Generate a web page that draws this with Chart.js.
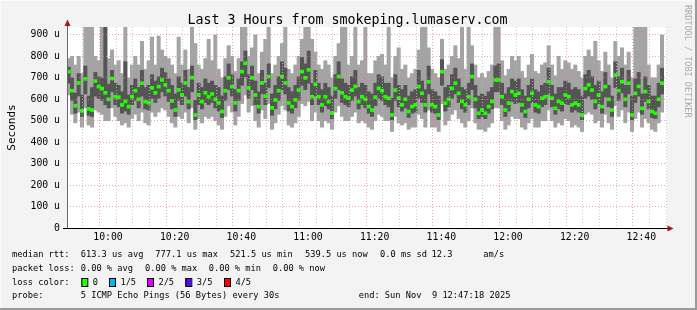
<!DOCTYPE html>
<html>
<head>
<meta charset="utf-8">
<script src="https://cdn.jsdelivr.net/npm/chart.js@4"></script>
<style>
  html, body { margin: 0; padding: 0; background: #f3f3f3; }
  canvas { display: block; }
</style>
</head>
<body>
<canvas id="smoke" width="697" height="310"></canvas>
<script>
// time axis: minutes since midnight, one sample per minute
const startMinute = 587.7;   // 09:47:42
const spanMinutes = 180;
const yTicks = [0, 100, 200, 300, 400, 500, 600, 700, 800, 900];

// values in microseconds
const median = [
  729,640,570,676,546,695,555,550,685,659,650,630,600,697,612,610,574,590,566,612,
  640,600,675,589,584,653,630,659,690,667,640,592,550,644,620,676,589,701,527,620,
  589,630,612,625,600,583,543,640,700,659,583,640,729,768,653,700,620,566,676,615,
  706,560,597,640,706,676,583,566,597,643,729,700,737,612,670,612,574,612,589,536,
  650,706,630,612,605,643,660,589,612,600,566,550,610,651,640,612,605,527,643,605,
  574,600,543,566,574,659,628,574,682,574,566,527,729,582,600,651,675,628,590,574,
  612,706,600,535,550,535,566,590,690,690,612,550,582,636,620,628,574,543,600,628,
  574,566,605,612,682,605,558,590,582,620,612,574,582,574,527,650,667,643,590,620,
  566,659,600,550,713,640,682,600,675,527,628,660,558,636,590,543,535,600,675,null
];
const ping2 = [
  675,595,535,615,520,625,525,520,615,605,595,575,560,635,575,565,535,545,530,575,
  595,560,615,555,550,605,585,605,635,615,590,555,520,595,575,615,555,635,505,575,
  555,585,575,585,560,545,515,595,645,615,545,595,665,705,605,645,575,535,625,575,
  655,525,555,595,645,625,545,535,560,595,665,645,675,575,615,575,540,570,555,510,
  605,645,585,575,565,595,615,555,575,560,535,520,570,605,595,575,565,505,595,565,
  545,560,515,535,540,605,585,540,625,540,535,505,665,545,565,605,625,585,555,540,
  575,645,560,510,520,510,535,555,635,635,575,520,545,590,580,585,540,515,560,585,
  540,535,565,575,625,565,530,555,545,580,575,540,550,540,505,605,615,600,555,580,
  535,610,565,520,655,595,630,565,625,505,585,615,530,590,555,515,510,565,625,null
];
const ping4 = [
  750,700,630,720,620,755,615,655,725,705,700,940,670,735,675,665,635,775,620,665,
  695,655,735,655,665,715,685,705,745,725,695,665,625,705,675,735,655,755,595,675,
  655,695,675,685,665,655,615,705,765,715,645,695,775,825,715,755,685,635,735,675,
  765,625,665,705,775,745,655,635,665,705,795,765,825,675,735,675,645,675,655,615,
  715,775,695,675,665,705,735,655,675,665,635,625,675,715,705,675,675,605,715,665,
  645,665,615,635,645,735,685,645,755,645,635,615,785,655,665,715,745,695,655,645,
  675,765,665,615,625,615,635,655,755,765,675,625,655,695,685,695,645,615,665,695,
  645,635,665,675,745,665,625,655,655,685,675,645,655,645,615,715,735,705,665,685,
  635,725,665,615,775,705,745,665,735,615,695,725,625,705,665,615,615,675,745,null
];
const pingMin = [
  620,530,490,540,470,560,480,470,550,540,530,500,500,560,520,500,480,490,470,510,
  530,500,540,490,480,540,520,540,560,550,520,490,470,520,510,540,490,560,460,510,
  490,520,510,520,500,480,460,520,570,540,480,520,580,620,540,570,500,470,550,510,
  580,460,490,530,570,550,480,470,490,520,580,570,590,500,540,500,470,500,490,460,
  540,570,520,500,500,520,540,490,500,490,470,460,500,530,520,500,500,450,520,490,
  480,490,460,470,470,530,510,470,550,470,470,450,580,480,500,530,550,510,490,470,
  500,560,490,460,460,450,470,490,560,560,500,460,480,520,510,510,470,460,490,510,
  470,470,500,500,550,500,470,490,480,510,500,470,480,470,450,530,540,530,490,500,
  470,530,490,460,570,520,550,490,540,450,510,540,470,510,490,460,450,490,540,null
];
const pingMax = [
  790,800,760,800,720,940,940,940,800,780,940,940,790,830,760,780,720,940,700,760,
  800,760,870,740,780,890,760,895,830,800,790,760,720,890,760,830,740,940,860,760,
  740,790,880,780,900,740,700,790,850,800,730,790,940,940,800,840,900,720,820,880,
  940,720,760,800,860,940,740,720,760,800,880,940,940,880,820,760,740,780,760,700,
  800,860,940,940,760,800,940,760,780,940,720,720,780,800,810,760,940,700,800,840,
  740,760,700,720,740,830,940,940,840,740,720,700,880,740,760,800,850,790,940,740,
  940,850,760,700,720,700,730,760,940,940,780,710,740,800,780,800,730,700,760,810,
  730,720,760,770,850,760,710,800,740,780,770,740,760,730,700,800,830,800,870,780,
  730,820,760,700,870,800,840,760,820,700,940,940,940,940,760,700,700,760,900,null
];

const lossColors = ['#20ff00', '#00b8ff', '#e000ff', '#6000ff', '#ff0000'];
const lossLabels = ['0', '1/5', '2/5', '3/5', '4/5'];

const mono = 'DejaVu Sans Mono';

function sampleTime(i) { return startMinute + i + 0.5; }
function hhmm(v) {
    const h = Math.floor(v / 60), m = Math.round(v % 60);
    return h + ':' + String(m).padStart(2, '0');
}
function band(lowArr, highArr) {
    const out = [];
    lowArr.forEach((lo, i) => {
        if (lo == null || highArr[i] == null) return;
        out.push({ x: sampleTime(i), y: [lo, highArr[i]] });
    });
    return out;
}
function medianMarks() {
    const out = [];
    median.forEach((m, i) => {
        if (m == null) return;
        out.push({ x: sampleTime(i), y: [m - 7, m + 7] });
    });
    return out;
}
function isMultiple(ctx, step) {
    return !!ctx.tick && Math.round(ctx.tick.value) % step === 0;
}

const legendLines = [
    { y: 257.3, parts: [[12, 'median rtt:'], [80.7, '613.3 us avg'], [155.3, '777.1 us max'], [230, '521.5 us min'],
        [305, '539.5 us now'], [380, '0.0 ms sd'], [431.5, '12.3'], [483.3, 'am/s']] },
    { y: 271, parts: [[12, 'packet loss:'], [80.7, '0.00 % avg'], [145, '0.00 % max'], [208.7, '0.00 % min'], [272.7, '0.00 % now']] },
    { y: 284.7, parts: [[12, 'loss color:']] },
    { y: 298.3, parts: [[12, 'probe:'], [80.7, '5 ICMP Echo Pings (56 Bytes) every 30s'], [358.7, 'end: Sun Nov  9 12:47:18 2025']] }
];
const lossBoxX = [81.3, 109, 147, 185.3, 224];

const frame = {
    id: 'frame',
    beforeDraw(chart) {
        const { ctx, chartArea: a } = chart;
        ctx.save();
        ctx.fillStyle = '#f3f3f3';
        ctx.fillRect(0, 0, chart.width, chart.height);
        ctx.fillStyle = '#ffffff';
        ctx.fillRect(a.left, a.top, a.right - a.left, a.bottom - a.top);
        ctx.restore();
    },
    afterDraw(chart) {
        const { ctx, chartArea: a } = chart;
        ctx.save();
        // outer frame
        ctx.fillStyle = '#fcfcfc';
        ctx.fillRect(0, 0, chart.width, 1);
        ctx.fillRect(0, 0, 1, chart.height);
        ctx.fillStyle = '#9a9a9a';
        ctx.fillRect(0, chart.height - 2, chart.width, 2);
        ctx.fillRect(chart.width - 2, 0, 2, chart.height);

        // axes
        ctx.fillStyle = '#666666';
        ctx.fillRect(a.left, 24, 1, a.bottom - 24);
        ctx.fillStyle = '#000000';
        ctx.fillRect(a.left - 4, a.bottom, a.right - a.left + 6, 1);
        ctx.fillStyle = '#a01818';
        ctx.beginPath();
        ctx.moveTo(a.left + 0.5, 19.5); ctx.lineTo(a.left + 3.5, 26); ctx.lineTo(a.left - 2.5, 26);
        ctx.closePath(); ctx.fill();
        ctx.beginPath();
        ctx.moveTo(a.right + 6.5, a.bottom + 0.5); ctx.lineTo(a.right + 0.5, a.bottom - 2.5); ctx.lineTo(a.right + 0.5, a.bottom + 3.5);
        ctx.closePath(); ctx.fill();

        // title
        ctx.fillStyle = '#000000';
        ctx.font = '13.3px "' + mono + '"';
        ctx.textAlign = 'center';
        ctx.textBaseline = 'alphabetic';
        ctx.fillText('Last 3 Hours from smokeping.lumaserv.com', 347.5, 24);

        // y axis title
        ctx.save();
        ctx.translate(15, (a.top + a.bottom) / 2);
        ctx.rotate(-Math.PI / 2);
        ctx.font = '11px "' + mono + '"';
        ctx.fillStyle = '#000000';
        ctx.fillText('Seconds', 0, 0);
        ctx.restore();

        // watermark
        ctx.save();
        ctx.translate(685, 5);
        ctx.rotate(Math.PI / 2);
        ctx.font = '8.5px "' + mono + '"';
        ctx.fillStyle = '#aaaaaa';
        ctx.textAlign = 'left';
        ctx.fillText('RRDTOOL / TOBI OETIKER', 0, 0);
        ctx.restore();

        // legend
        ctx.font = '8.7px "' + mono + '"';
        ctx.textAlign = 'left';
        ctx.fillStyle = '#000000';
        legendLines.forEach(line => {
            line.parts.forEach(([x, t]) => ctx.fillText(t, x, line.y));
        });
        lossColors.forEach((c, i) => {
            const x = lossBoxX[i];
            ctx.fillStyle = c;
            ctx.fillRect(x, 278, 6, 8);
            ctx.strokeStyle = '#000000';
            ctx.lineWidth = 1;
            ctx.strokeRect(x + 0.5, 278.5, 6, 8);
            ctx.fillStyle = '#000000';
            ctx.fillText(lossLabels[i], x + 11.4, 284.7);
        });
        ctx.restore();
    }
};

new Chart(document.getElementById('smoke').getContext('2d'), {
    type: 'bar',
    data: {
        datasets: [
            { label: 'median', data: medianMarks(), backgroundColor: lossColors[0] },
            { label: 'ping 2-4', data: band(ping2, ping4), backgroundColor: '#555555' },
            { label: 'ping 1-5', data: band(pingMin, pingMax), backgroundColor: '#a4a4a4' }
        ]
    },
    options: {
        responsive: false,
        animation: false,
        events: [],
        datasets: { bar: { grouped: false, barPercentage: 1, categoryPercentage: 1, borderWidth: 0 } },
        layout: { padding: { top: 27, right: 30, left: 0, bottom: 0 } },
        plugins: { legend: { display: false }, tooltip: { enabled: false } },
        scales: {
            x: {
                type: 'linear', min: startMinute, max: startMinute + spanMinutes, offset: false,
                afterBuildTicks: s => {
                    const t = [];
                    for (let v = Math.ceil(startMinute / 5) * 5; v < s.max; v += 5) t.push({ value: v });
                    s.ticks = t;
                },
                afterFit: s => { s.height = 82; },
                ticks: {
                    autoSkip: false, maxRotation: 0, padding: 4, color: '#000000',
                    font: { family: mono, size: 9.8 },
                    callback: v => (v % 20 === 0 ? hhmm(v) : '')
                },
                grid: {
                    z: 1, drawTicks: false, lineWidth: 1,
                    color: c => (isMultiple(c, 20) ? 'rgba(235,125,125,0.7)' : 'rgba(190,190,190,0.8)')
                },
                border: { display: false, dash: [1, 2] }
            },
            y: {
                min: 0, max: 937,
                afterBuildTicks: s => {
                    const t = [];
                    for (let v = 0; v <= 900; v += 50) t.push({ value: v });
                    s.ticks = t;
                },
                afterFit: s => { s.width = 67; },
                ticks: {
                    padding: 7, color: '#000000',
                    font: { family: mono, size: 9.8 },
                    callback: v => (yTicks.includes(v) ? (v === 0 ? '0' : v + ' u') : '')
                },
                grid: {
                    z: 1, drawTicks: false, lineWidth: 1,
                    color: c => (isMultiple(c, 100) ? 'rgba(235,125,125,0.7)' : 'rgba(190,190,190,0.8)')
                },
                border: { display: false, dash: [1, 2] }
            }
        }
    },
    plugins: [frame]
});
</script>
</body>
</html>
